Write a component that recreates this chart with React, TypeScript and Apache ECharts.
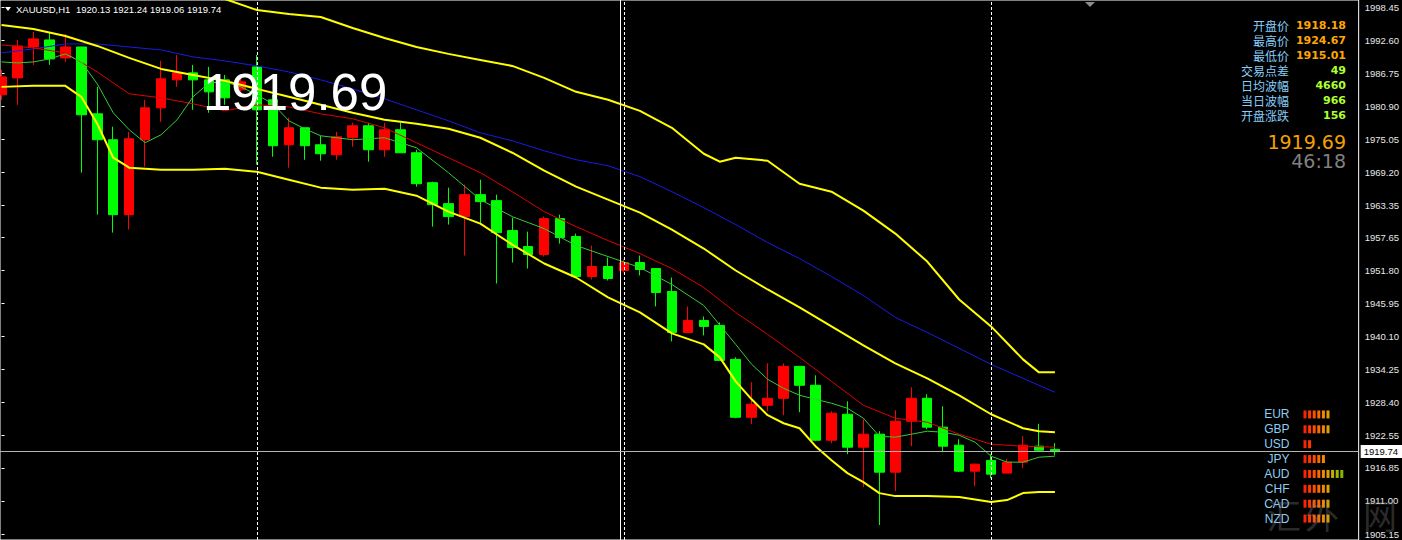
import { useEffect, useRef } from 'react';
import * as echarts from 'echarts';

const SYMBOL = 'XAUUSD';
const PERIOD = 'H1';

// [open, close, low, high] per H1 candle, left to right
const candles: number[][] = [
  [1982.90, 1986.08, 1982.02, 1987.32],
  [1985.90, 1991.56, 1981.13, 1992.62],
  [1991.38, 1992.80, 1988.20, 1994.03],
  [1992.62, 1989.26, 1988.20, 1994.03],
  [1989.44, 1991.38, 1988.73, 1993.68],
  [1991.38, 1979.37, 1969.12, 1991.38],
  [1979.54, 1974.95, 1961.69, 1984.31],
  [1974.95, 1961.69, 1958.51, 1977.25],
  [1961.69, 1975.12, 1959.04, 1976.36],
  [1974.95, 1980.60, 1970.18, 1982.02],
  [1980.60, 1985.73, 1978.13, 1988.91],
  [1985.55, 1986.79, 1984.31, 1989.97],
  [1986.79, 1985.55, 1980.25, 1988.20],
  [1985.55, 1983.43, 1979.72, 1987.85],
  [1985.55, 1982.37, 1981.13, 1986.43],
  [1983.78, 1985.20, 1982.90, 1986.43],
  [1987.85, 1980.25, 1970.53, 1989.97],
  [1982.02, 1973.89, 1971.94, 1982.90],
  [1974.06, 1977.07, 1970.00, 1978.84],
  [1977.07, 1973.89, 1971.41, 1977.07],
  [1974.06, 1972.47, 1971.24, 1975.65],
  [1972.30, 1975.48, 1971.41, 1976.36],
  [1975.30, 1977.42, 1973.71, 1977.95],
  [1977.42, 1973.18, 1971.06, 1977.95],
  [1973.18, 1976.72, 1971.94, 1977.95],
  [1976.72, 1972.65, 1972.65, 1977.95],
  [1972.65, 1967.17, 1966.64, 1973.18],
  [1967.35, 1963.46, 1959.57, 1967.53],
  [1963.64, 1961.34, 1959.93, 1966.47],
  [1961.34, 1965.23, 1954.45, 1967.00],
  [1965.23, 1963.99, 1959.93, 1967.88],
  [1964.17, 1958.51, 1949.50, 1965.23],
  [1958.87, 1955.86, 1953.21, 1961.16],
  [1956.04, 1954.63, 1952.15, 1958.69],
  [1954.63, 1960.99, 1954.27, 1961.34],
  [1960.99, 1957.63, 1956.57, 1961.69],
  [1957.81, 1950.74, 1950.74, 1958.34],
  [1950.74, 1952.51, 1950.21, 1956.22],
  [1952.51, 1950.39, 1950.03, 1954.10],
  [1951.80, 1953.21, 1951.45, 1953.74],
  [1953.21, 1951.98, 1950.92, 1954.45],
  [1952.15, 1947.91, 1945.44, 1952.15],
  [1948.09, 1940.84, 1939.25, 1950.56],
  [1940.84, 1942.96, 1940.84, 1945.44],
  [1942.96, 1941.90, 1940.31, 1943.67],
  [1942.08, 1935.89, 1935.89, 1942.61],
  [1936.07, 1925.82, 1925.65, 1936.42],
  [1925.82, 1928.12, 1924.59, 1932.01],
  [1927.94, 1929.18, 1926.88, 1935.36],
  [1929.18, 1934.83, 1926.18, 1935.36],
  [1934.83, 1931.48, 1926.71, 1934.83],
  [1931.48, 1921.76, 1921.58, 1933.24],
  [1921.76, 1926.53, 1921.23, 1926.88],
  [1926.35, 1920.52, 1919.28, 1928.65],
  [1920.52, 1922.82, 1913.45, 1925.47],
  [1922.82, 1916.10, 1906.74, 1923.35],
  [1916.10, 1925.12, 1912.75, 1927.06],
  [1925.12, 1929.18, 1920.70, 1931.12],
  [1929.18, 1924.06, 1923.70, 1929.89],
  [1924.06, 1920.70, 1919.64, 1927.77],
  [1920.87, 1916.28, 1916.10, 1921.93],
  [1916.28, 1917.52, 1913.63, 1917.52],
  [1918.18, 1915.75, 1915.01, 1919.28],
  [1915.93, 1917.87, 1915.93, 1918.40],
  [1917.87, 1920.87, 1916.81, 1922.47],
  [1920.70, 1919.99, 1919.99, 1924.67],
  [1920.13, 1919.74, 1919.06, 1921.24],
];

// indicator lines: [candle index, price]
const outerBand: number[][] = [
  [12, 2001.81], [14, 1999.86], [16, 1997.92], [18, 1997.21], [20, 1996.68], [22, 1994.74],
  [24, 1992.97], [26, 1991.38], [28, 1990.15], [30, 1989.08], [32, 1988.02], [34, 1985.90],
  [36, 1983.43], [38, 1982.02], [40, 1980.07], [42, 1977.07], [44, 1972.47], [45, 1971.06],
  [46, 1971.77], [48, 1971.24], [50, 1967.17], [52, 1965.76], [54, 1962.40], [56, 1958.34],
  [58, 1953.39], [60, 1946.67], [62, 1941.90], [64, 1936.07], [65, 1933.77], [66, 1933.77],
];
const upperBand: number[][] = [
  [0, 1995.27], [2, 1994.56], [4, 1993.33], [6, 1991.56], [8, 1989.44], [10, 1987.49],
  [12, 1986.43], [14, 1985.37], [16, 1983.96], [18, 1982.55], [20, 1981.13], [22, 1979.72],
  [24, 1978.48], [26, 1977.78], [28, 1976.89], [30, 1975.30], [32, 1972.65], [34, 1969.47],
  [36, 1966.64], [38, 1964.35], [40, 1962.05], [42, 1959.04], [44, 1955.69], [46, 1951.80],
  [48, 1948.44], [50, 1945.26], [52, 1941.90], [54, 1938.55], [56, 1935.37], [58, 1932.71],
  [60, 1929.71], [62, 1926.35], [64, 1923.88], [65, 1923.35], [66, 1923.17],
];
const lowerBand: number[][] = [
  [0, 1984.31], [2, 1984.49], [4, 1984.49], [5, 1982.55], [6, 1977.78], [7, 1971.77],
  [8, 1970.00], [10, 1969.65], [12, 1969.65], [14, 1969.82], [16, 1969.29], [18, 1967.88],
  [20, 1966.47], [22, 1966.11], [24, 1966.29], [26, 1965.05], [28, 1962.22], [30, 1960.10],
  [32, 1956.39], [34, 1953.04], [36, 1950.56], [38, 1947.03], [40, 1944.38], [42, 1940.67],
  [44, 1938.72], [45, 1936.42], [46, 1932.18], [47, 1929.00], [48, 1926.18], [49, 1924.76],
  [50, 1923.88], [51, 1920.70], [52, 1918.22], [53, 1915.93], [54, 1914.34], [55, 1912.39],
  [56, 1911.86], [58, 1911.86], [60, 1911.69], [62, 1910.80], [63, 1911.16], [64, 1912.39],
  [65, 1912.57], [66, 1912.57],
];
const slowMA: number[][] = [
  [0, 1990.32], [2, 1991.03], [4, 1991.91], [6, 1991.91], [8, 1991.38], [10, 1990.85],
  [12, 1989.61], [14, 1988.91], [16, 1988.02], [18, 1986.96], [20, 1985.55], [22, 1983.96],
  [24, 1982.19], [26, 1980.25], [28, 1978.31], [30, 1976.18], [32, 1974.77], [34, 1973.00],
  [36, 1971.41], [38, 1970.35], [40, 1968.41], [42, 1965.76], [44, 1962.93], [46, 1959.93],
  [48, 1956.75], [50, 1953.92], [52, 1950.74], [54, 1947.38], [56, 1943.49], [58, 1940.84],
  [60, 1938.02], [62, 1935.19], [64, 1932.71], [66, 1930.24],
];
const midMA: number[][] = [
  [0, 1991.74], [2, 1991.21], [4, 1990.32], [6, 1986.96], [8, 1983.08], [10, 1982.37],
  [12, 1981.31], [14, 1980.07], [16, 1981.13], [18, 1980.78], [20, 1979.54], [22, 1978.66],
  [24, 1977.07], [26, 1974.42], [28, 1971.77], [30, 1969.12], [32, 1965.76], [34, 1962.22],
  [36, 1959.57], [38, 1957.10], [40, 1954.80], [42, 1952.15], [44, 1948.79], [46, 1944.38],
  [48, 1940.49], [50, 1936.42], [52, 1932.18], [54, 1927.94], [56, 1925.65], [58, 1924.94],
  [60, 1922.82], [62, 1921.05], [64, 1920.70], [66, 1920.52],
];
const fastMA: number[][] = [
  [0, 1988.73], [1, 1988.55], [2, 1988.73], [3, 1989.26], [4, 1990.15], [5, 1988.73],
  [6, 1984.84], [7, 1979.72], [8, 1976.72], [9, 1974.42], [10, 1975.83], [11, 1978.48],
  [12, 1982.55], [13, 1985.02], [14, 1985.20], [15, 1984.31], [16, 1982.90], [17, 1981.31],
  [18, 1978.31], [19, 1976.89], [20, 1975.65], [22, 1974.95], [24, 1975.30], [26, 1973.53],
  [28, 1969.12], [30, 1964.35], [32, 1961.34], [34, 1959.22], [36, 1956.22], [38, 1954.27],
  [40, 1952.33], [42, 1949.33], [44, 1945.61], [46, 1938.72], [47, 1935.19], [48, 1932.54],
  [49, 1930.95], [50, 1929.71], [51, 1929.00], [52, 1928.30], [53, 1927.41], [54, 1925.65],
  [55, 1922.47], [56, 1922.29], [57, 1922.82], [58, 1923.35], [59, 1923.17], [60, 1922.64],
  [61, 1921.40], [62, 1918.93], [63, 1917.87], [64, 1917.87], [65, 1918.75], [66, 1918.93],
];

const priceTicks = [
  1998.45, 1992.60, 1986.75, 1980.90, 1975.05, 1969.20, 1963.35, 1957.65, 1951.80,
  1945.95, 1940.10, 1934.25, 1928.40, 1922.55, 1916.85, 1911.00, 1905.15,
];
const daySeparators = [16, 39, 62];
const markerLine = 38.78;
const bidPrice = 1919.74;
const bigPrice = '1919.69';
const panelLabels = ['开盘价', '最高价', '最低价', '交易点差', '日均波幅', '当日波幅', '开盘涨跌'];
const panelValues = ['1918.18', '1924.67', '1915.01', '49', '4660', '966', '156'];
const countdown = '46:18';
const currencies = ['EUR', 'GBP', 'USD', 'JPY', 'AUD', 'CHF', 'CAD', 'NZD'];
const strength = [6, 6, 2, 5, 9, 6, 6, 6];
const watermark = ['汇', '外', '网'];

const Y_MIN = 1904.09;
const Y_MAX = 1999.69;
const X_MIN = -0.094;
const X_MAX = 85.03;

const barPalette = ['#ff2200', '#ff3800', '#ff5000', '#ff6a00', '#f58800', '#dca200', '#c4ae00', '#a6b400', '#8ab400'];

export default function App() {
  const ref = useRef<HTMLDivElement>(null);
  useEffect(() => {
    document.body.style.margin = '0';
    document.body.style.background = '#000';
    const chart = echarts.init(ref.current!, null, { renderer: 'svg' });

    const strengthData: number[][] = [];
    strength.forEach((n, c) => {
      for (let k = 0; k < n; k++) strengthData.push([k, c]);
    });

    const last = candles[candles.length - 1];
    const headerText = [last[0], last[3], last[2], last[1]].map((v) => v.toFixed(2)).join(' ');

    const graphic: any[] = [
      { type: 'polygon', shape: { points: [[5, 7], [11, 7], [8, 11]] }, style: { fill: '#fff' }, z: 100 },
      { type: 'text', x: 16, y: 9, style: { text: `${SYMBOL},${PERIOD}`, fill: '#fff', font: '9.5px "Liberation Sans", Arial', verticalAlign: 'middle' }, z: 100 },
      { type: 'text', x: 76, y: 9, style: { text: headerText, fill: '#fff', font: '9.5px "Liberation Sans", Arial', verticalAlign: 'middle' }, z: 100 },
      { type: 'polygon', shape: { points: [[1085, 2], [1095, 2], [1090, 7]] }, style: { fill: '#8c8c8c' }, z: 100 },
      { type: 'text', x: 203, y: 92, style: { text: bigPrice, fill: '#fff', font: '51px "Liberation Sans", Arial', verticalAlign: 'middle' }, z: 100 },
      { type: 'text', x: 1346, y: 142, style: { text: bigPrice, fill: '#f5a000', font: '19px "DejaVu Sans"', align: 'right', verticalAlign: 'middle' }, z: 100 },
      { type: 'text', x: 1346, y: 161, style: { text: countdown, fill: '#808080', font: '19px "DejaVu Sans"', align: 'right', verticalAlign: 'middle' }, z: 100 },
    ];
    panelLabels.forEach((t, k) => {
      const y = 25 + 15.1 * k;
      graphic.push({ type: 'text', x: 1289, y, style: { text: t, fill: '#87cefa', font: '12px "Noto Sans CJK SC"', align: 'right', verticalAlign: 'middle' }, z: 100 });
      graphic.push({ type: 'text', x: 1346, y, style: { text: panelValues[k], fill: k < 3 ? '#ffa500' : '#adff2f', font: 'bold 11px "DejaVu Sans"', align: 'right', verticalAlign: 'middle' }, z: 100 });
    });
    const wmX = [1284, 1322, 1380];
    watermark.forEach((ch, k) => {
      graphic.push({ type: 'text', x: wmX[k], y: 514, style: { text: ch, fill: 'rgba(150,150,150,0.3)', font: '34px "Noto Sans CJK SC"', align: 'center', verticalAlign: 'middle' }, z: 90 });
    });

    const lineSeries = (data: number[][], color: string, width: number) => ({
      type: 'line',
      xAxisIndex: 0,
      yAxisIndex: 0,
      data,
      showSymbol: false,
      symbol: 'none',
      silent: true,
      z: 4,
      clip: true,
      lineStyle: { color, width },
    });

    const option: any = {
      animation: false,
      backgroundColor: '#000',
      grid: [
        { left: 0, top: 0, width: 1362, height: 541, show: true, borderColor: '#ffffff', borderWidth: 1, backgroundColor: 'transparent' },
        { left: 1303.5, top: 407, width: 46, height: 119 },
      ],
      xAxis: [
        { type: 'value', gridIndex: 0, min: X_MIN, max: X_MAX, show: false },
        { type: 'value', gridIndex: 1, min: 0, max: 10, show: false },
      ],
      yAxis: [
        {
          type: 'value', gridIndex: 0, position: 'right', min: Y_MIN, max: Y_MAX,
          axisLine: { show: false },
          splitLine: { show: false },
          axisTick: { show: true, customValues: priceTicks, length: 3, lineStyle: { color: '#fff' } },
          axisLabel: {
            customValues: priceTicks,
            formatter: (v: number) => v.toFixed(2),
            color: '#e8e8e8', fontSize: 9.5, fontFamily: '"Liberation Sans", Arial', margin: 6,
          },
        },
        {
          type: 'category', gridIndex: 1, data: currencies, inverse: true, position: 'left',
          axisLine: { show: false }, axisTick: { show: false }, splitLine: { show: false },
          axisLabel: { interval: 0, color: '#8fcdf0', fontSize: 12, fontFamily: '"Liberation Sans", Arial', margin: 14 },
        },
      ],
      series: [
        {
          type: 'line', xAxisIndex: 0, yAxisIndex: 0, data: [], z: 1, silent: true,
          markLine: {
            silent: true, symbol: ['none', 'none'], label: { show: false },
            data: [
              ...daySeparators.map((x) => ({ xAxis: x, lineStyle: { color: '#ffffff', type: [3, 2], width: 1 } })),
              { xAxis: markerLine, lineStyle: { color: '#ffffff', type: 'solid', width: 1 } },
            ],
          },
        },
        {
          type: 'candlestick', xAxisIndex: 0, yAxisIndex: 0,
          data: candles.map((c, i) => [i, c[0], c[1], c[2], c[3]]),
          encode: { x: 0, y: [1, 2, 3, 4] },
          barWidth: 10, z: 2, silent: true, clip: true,
          itemStyle: { color: '#ff0000', color0: '#00ff00', borderColor: '#ff0000', borderColor0: '#00ff00', borderWidth: 1 },
        },
        lineSeries(slowMA, '#1a1ae6', 1),
        lineSeries(midMA, '#e00000', 1),
        lineSeries(fastMA, '#33cc33', 1),
        lineSeries(outerBand, '#ffff00', 2),
        lineSeries(upperBand, '#ffff00', 2),
        lineSeries(lowerBand, '#ffff00', 2),
        {
          type: 'line', xAxisIndex: 0, yAxisIndex: 0, data: [], z: 5, silent: true,
          markLine: {
            silent: true, symbol: ['none', 'none'],
            data: [{ yAxis: bidPrice }],
            lineStyle: { color: '#b4b4b4', type: 'solid', width: 1 },
            label: {
              show: true, position: 'end', formatter: () => bidPrice.toFixed(2),
              color: '#000', backgroundColor: '#fff', fontSize: 9.5, fontFamily: '"Liberation Sans", Arial',
              padding: [2, 4, 1, 3], distance: 2,
            },
          },
        },
        {
          type: 'custom', xAxisIndex: 1, yAxisIndex: 1, data: strengthData, silent: true, z: 10,
          renderItem: (params: any, api: any) => {
            const k = api.value(0);
            const p = api.coord([k, api.value(1)]);
            return { type: 'rect', shape: { x: p[0], y: p[1] - 4, width: 3, height: 8 }, style: { fill: barPalette[k] } };
          },
        },
      ],
      graphic,
    };
    chart.setOption(option);
    return () => chart.dispose();
  }, []);
  return <div ref={ref} style={{ width: 1402, height: 540, background: '#000' }} />;
}
